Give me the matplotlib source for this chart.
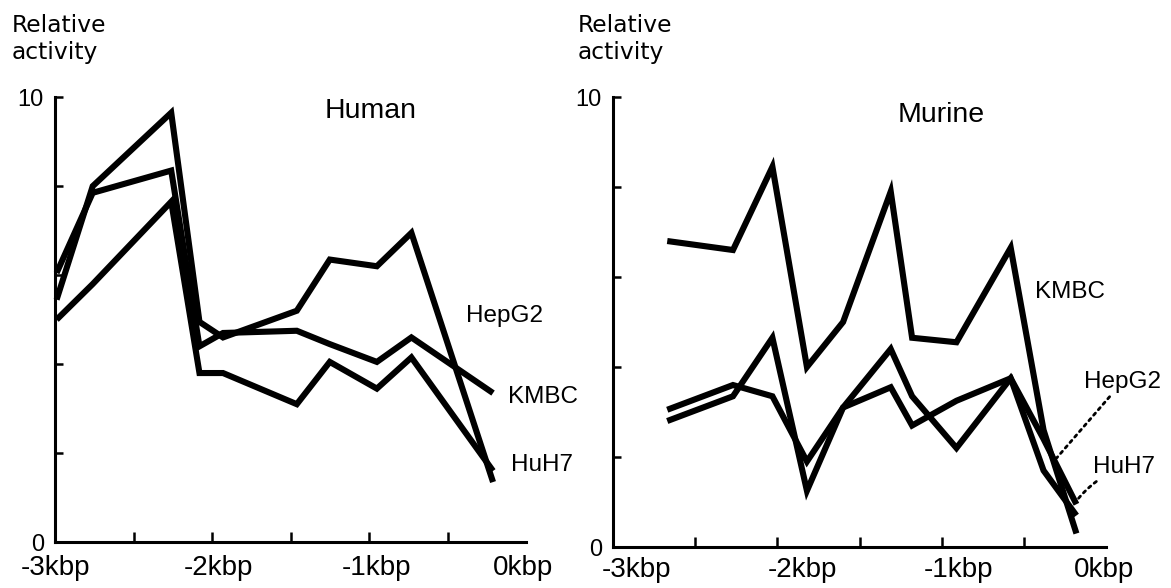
import numpy as np
import matplotlib.pyplot as plt

# positions along the promoter (kbp) and relative activity
human_x = [-2.99, -2.76, -2.26, -2.08, -1.93, -1.46, -1.25, -0.95, -0.73, -0.21]
human_hepg2 = [5.45, 8.0, 9.65, 4.95, 4.6, 5.2, 6.35, 6.2, 6.95, 1.35]
human_kmbc = [6.05, 7.85, 8.35, 4.4, 4.7, 4.75, 4.45, 4.05, 4.6, 3.35]
human_huh7 = [5.0, 5.8, 7.65, 3.8, 3.8, 3.1, 4.05, 3.45, 4.15, 1.6]

murine_x = [-2.67, -2.27, -2.03, -1.82, -1.60, -1.31, -1.18, -0.91, -0.58, -0.38, -0.18]
murine_kmbc = [6.8, 6.6, 8.45, 4.0, 5.0, 7.9, 4.65, 4.55, 6.65, 2.6, 0.3]
murine_hepg2 = [2.8, 3.35, 4.65, 1.25, 3.1, 4.4, 3.35, 2.2, 3.75, 2.4, 0.95]
murine_huh7 = [3.05, 3.6, 3.35, 1.9, 3.1, 3.55, 2.7, 3.25, 3.75, 1.7, 0.7]

xtick_labels = ['-3kbp', '-2kbp', '-1kbp', '0kbp']
ytick_labels = ['0', '', '', '', '', '10']

plt.rcParams['font.family'] = ['Liberation Sans', 'DejaVu Sans']

fig = plt.figure(figsize=(11.71, 5.88), dpi=100)
ax1 = fig.add_axes([0.047, 0.078, 0.4022, 0.7568])
ax2 = fig.add_axes([0.5235, 0.0697, 0.421, 0.7653])


def style(ax, label_pos, pad):
    ax.set_xlim(-3, 0)
    ax.set_ylim(0, 10)
    for s in ['top', 'right']:
        ax.spines[s].set_visible(False)
    for s in ['left', 'bottom']:
        ax.spines[s].set_linewidth(2.2)
    ax.set_xticks(label_pos)
    ax.set_xticklabels(xtick_labels, fontsize=20)
    ax.set_xticks([-2.5, -2, -1.5, -1, -0.5], minor=True)
    ax.tick_params(axis='x', which='major', length=0, pad=pad)
    ax.tick_params(axis='x', which='minor', direction='in', length=7, width=1.8)
    ax.set_yticks([0, 2, 4, 6, 8, 10])
    ax.set_yticklabels(ytick_labels, fontsize=17)
    ax.tick_params(axis='y', direction='in', length=6, width=1.8, pad=8)


def draw(ax, x, series):
    for y in series:
        ax.plot(x, y, color='black', lw=4.4, solid_joinstyle='miter',
                solid_capstyle='butt', clip_on=False)


draw(ax1, human_x, [human_hepg2, human_kmbc, human_huh7])
style(ax1, [-3.0, -1.96, -0.95, -0.02], 9)
ax1.text(-0.99, 9.69, 'Human', fontsize=20.5, ha='center', va='center')
ax1.text(-0.14, 5.08, 'HepG2', fontsize=17.5, ha='center', va='center')
ax1.text(0.11, 3.26, 'KMBC', fontsize=17.5, ha='center', va='center', clip_on=False)
ax1.text(0.10, 1.73, 'HuH7', fontsize=17.5, ha='center', va='center', clip_on=False)

draw(ax2, murine_x, [murine_kmbc, murine_hepg2, murine_huh7])
style(ax2, [-2.86, -1.85, -0.90, -0.01], 7)
ax2.text(-1.0, 9.6, 'Murine', fontsize=20.5, ha='center', va='center')
ax2.text(-0.22, 5.67, 'KMBC', fontsize=17.5, ha='center', va='center')
ax2.annotate('HepG2', xy=(-0.30, 1.98), xytext=(0.10, 3.67), fontsize=17.5,
             ha='center', va='center', annotation_clip=False,
             arrowprops=dict(arrowstyle='-', linestyle=(0, (1, 1.6)), lw=2,
                             shrinkA=1, shrinkB=0))
ax2.annotate('HuH7', xy=(-0.19, 0.98), xytext=(0.11, 1.78), fontsize=17.5,
             ha='center', va='center', annotation_clip=False,
             arrowprops=dict(arrowstyle='-', linestyle=(0, (1, 1.6)), lw=2,
                             connectionstyle='arc3,rad=0.15',
                             shrinkA=1, shrinkB=0))

fig.text(12 / 1171, 1 - 14 / 588, 'Relative\nactivity', fontsize=16.8,
         family='DejaVu Sans', ha='left', va='top', linespacing=1.25)
fig.text(578 / 1171, 1 - 14 / 588, 'Relative\nactivity', fontsize=16.8,
         family='DejaVu Sans', ha='left', va='top', linespacing=1.25)

plt.savefig('out.png', dpi=100)
